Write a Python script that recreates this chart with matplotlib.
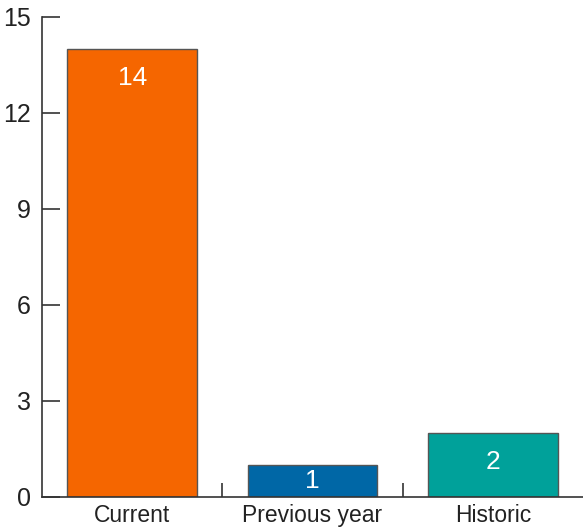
import numpy as np
import matplotlib.pyplot as plt

categories = ['Current', 'Previous year', 'Historic']
counts = [14, 1, 2]
colors = ['#F56600', '#0067A6', '#00A19A']
y_ticks = [0, 3, 6, 9, 12, 15]

plt.rcParams['font.family'] = ['Liberation Sans', 'DejaVu Sans']

fig = plt.figure(figsize=(5.83, 5.29), dpi=100)
ax = fig.add_axes([42 / 583, 32 / 529, 541 / 583, 480 / 529])

x = np.arange(len(categories))
ax.bar(x, counts, width=0.72, color=colors, edgecolor='#555555', linewidth=1.0)

# value labels inside bars
for xi, v in zip(x, counts):
    ax.text(xi, max(v / 2, v - 0.9), str(v), ha='center', va='center',
            color='white', fontsize=19)

ax.set_xlim(-0.5, 2.5)
ax.set_ylim(0, 15)
ax.set_yticks(y_ticks)
ax.set_xticks(x)
ax.set_xticklabels(categories)
ax.tick_params(axis='x', length=0, labelsize=16.5, pad=5, colors='#222222')
ax.set_xticks([0.5, 1.5], minor=True)
ax.tick_params(axis='x', which='minor', direction='in', length=10, width=1.2, color='#333333')
ax.tick_params(axis='y', direction='in', length=13, width=1.2, labelsize=18, pad=8,
               color='#333333', labelcolor='#222222')

for side in ['top', 'right']:
    ax.spines[side].set_visible(False)
for side in ['left', 'bottom']:
    ax.spines[side].set_color('#333333')
    ax.spines[side].set_linewidth(1.2)

fig.savefig('out.png', dpi=100)
